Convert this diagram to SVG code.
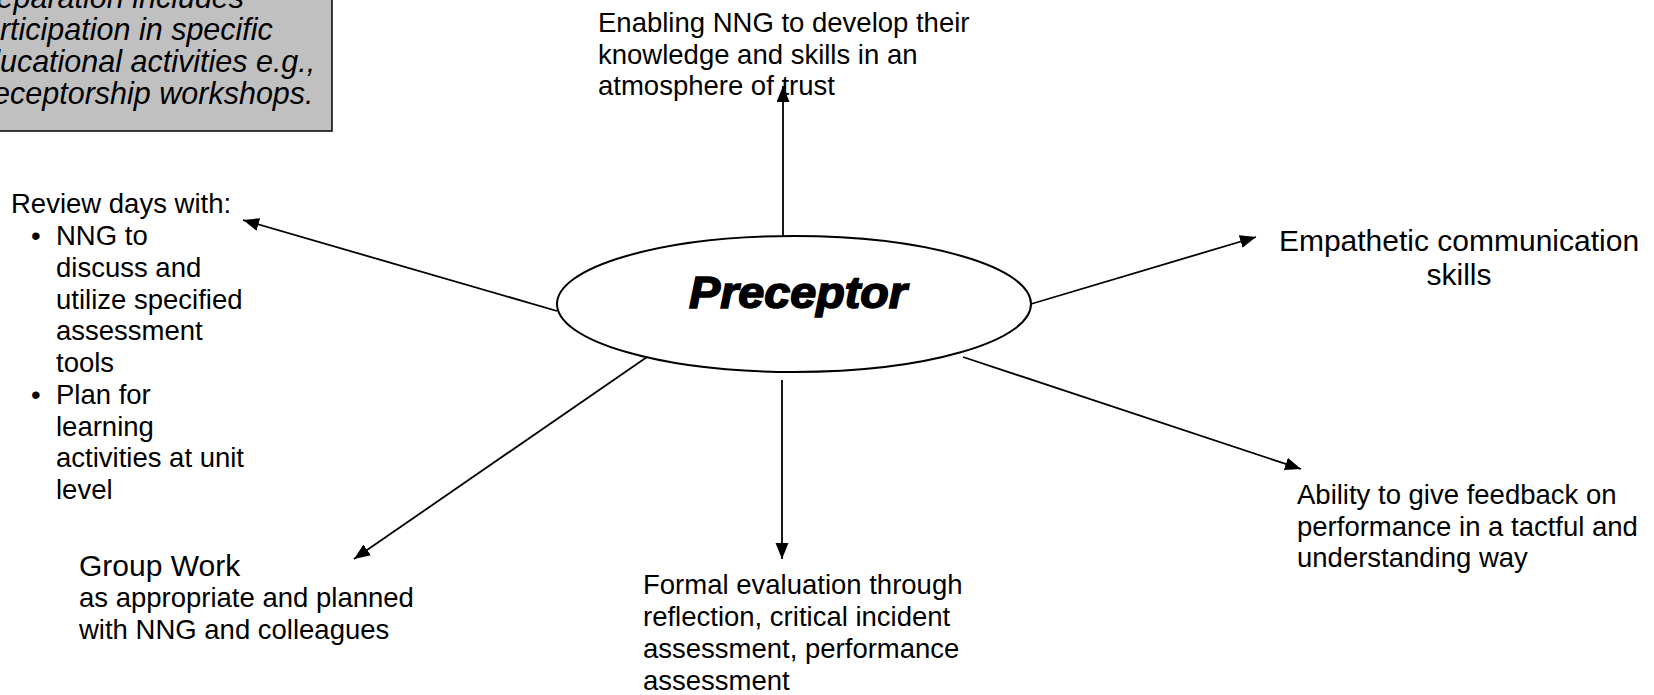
<svg xmlns="http://www.w3.org/2000/svg" width="1654" height="695" viewBox="0 0 1654 695">
<style>
  text { font-family: "Liberation Sans", Arial, sans-serif; fill: #000; }
  .body { font-size: 27.5px; }
  .big { font-size: 30px; }
  .note { font-size: 30.5px; font-style: italic; }
  .title { font-size: 44px; font-weight: bold; font-style: italic; stroke: #000; stroke-width: 1.6px; }
  .conn { stroke: #000; stroke-width: 1.8; fill: none; marker-end: url(#arrow); }
</style>
<defs>
  <marker id="arrow" markerUnits="userSpaceOnUse" markerWidth="18" markerHeight="14" refX="16" refY="6.5" orient="auto">
    <path d="M0,0 L16,6.5 L0,13 Z" fill="#000"/>
  </marker>
</defs>
<rect width="1654" height="695" fill="#fff"/>

<g id="note">
  <rect x="-2" y="-2" width="334" height="133" fill="#c0c0c0" stroke="#000" stroke-width="1.5"/>
  <text class="note" x="-34" y="8">Preparation includes</text>
  <text class="note" x="-34" y="40">participation in specific</text>
  <text class="note" x="-34" y="72">educational activities e.g.,</text>
  <text class="note" x="-34" y="104">preceptorship workshops.</text>
</g>

<g id="connectors">
  <line class="conn" x1="783" y1="245" x2="783" y2="86"/>
  <line class="conn" x1="557" y1="311" x2="243" y2="220"/>
  <line class="conn" x1="1031" y1="304" x2="1256" y2="237"/>
  <line class="conn" x1="963" y1="357" x2="1301" y2="469"/>
  <line class="conn" x1="782" y1="380" x2="782" y2="559"/>
  <line class="conn" x1="647" y1="357" x2="354" y2="559"/>
</g>

<g id="preceptor">
  <ellipse cx="794" cy="304" rx="237" ry="68" fill="#fff" stroke="#000" stroke-width="2"/>
  <text class="title" x="798" y="308" text-anchor="middle" textLength="218" lengthAdjust="spacingAndGlyphs">Preceptor</text>
</g>

<g id="enabling">
  <text class="body" x="598" y="32">Enabling NNG to develop their</text>
  <text class="body" x="598" y="64">knowledge and skills in an</text>
  <text class="body" x="598" y="95">atmosphere of trust</text>
</g>

<g id="review">
  <text class="body" x="11" y="213">Review days with:</text>
  <text class="body" x="31" y="245">•</text>
  <text class="body" x="56" y="245">NNG to</text>
  <text class="body" x="56" y="277">discuss and</text>
  <text class="body" x="56" y="308.5">utilize specified</text>
  <text class="body" x="56" y="340">assessment</text>
  <text class="body" x="56" y="372">tools</text>
  <text class="body" x="31" y="404">•</text>
  <text class="body" x="56" y="404">Plan for</text>
  <text class="body" x="56" y="435.5">learning</text>
  <text class="body" x="56" y="467">activities at unit</text>
  <text class="body" x="56" y="499">level</text>
</g>

<g id="empathetic">
  <text class="big" x="1459" y="251" text-anchor="middle">Empathetic communication</text>
  <text class="big" x="1459" y="285" text-anchor="middle">skills</text>
</g>

<g id="ability">
  <text class="body" x="1297" y="504">Ability to give feedback on</text>
  <text class="body" x="1297" y="536">performance in a tactful and</text>
  <text class="body" x="1297" y="567">understanding way</text>
</g>

<g id="formal">
  <text class="body" x="643" y="594">Formal evaluation through</text>
  <text class="body" x="643" y="626">reflection, critical incident</text>
  <text class="body" x="643" y="658">assessment, performance</text>
  <text class="body" x="643" y="690">assessment</text>
</g>

<g id="groupwork">
  <text class="big" x="79" y="576">Group Work</text>
  <text class="body" x="79" y="607">as appropriate and planned</text>
  <text class="body" x="79" y="639">with NNG and colleagues</text>
</g>
</svg>
